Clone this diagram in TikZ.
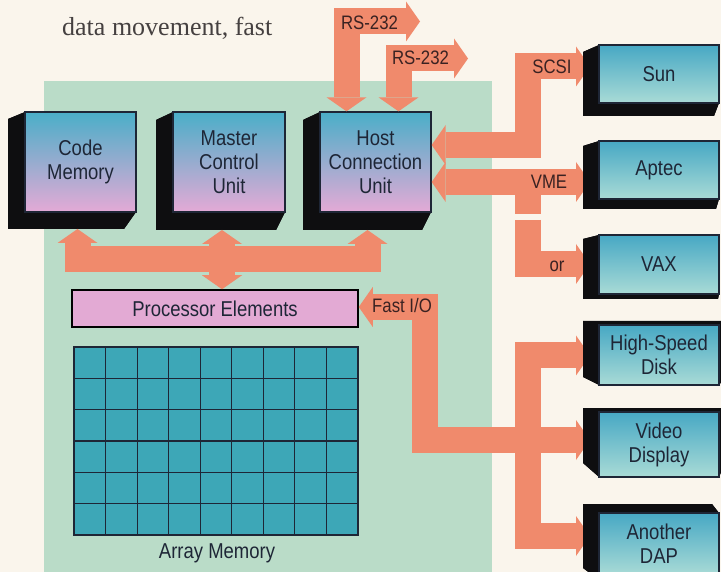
\documentclass[tikz,border=0pt]{standalone}
\usepackage{fontspec}
\newfontfamily\sansn{Liberation Sans}[FakeStretch=0.86]
\newfontfamily\serifl{Liberation Serif}
\usetikzlibrary{arrows.meta,calc}
\definecolor{bgcream}{HTML}{FAF5EC}
\definecolor{panelc}{HTML}{BADCC8}
\definecolor{salmon}{HTML}{F08A6C}
\definecolor{teala}{HTML}{4AAEC8}
\definecolor{pinka}{HTML}{E4AAD6}
\definecolor{tealb}{HTML}{47A8C4}
\definecolor{aquab}{HTML}{A9DBD6}
\definecolor{cellc}{HTML}{3DA7B7}
\definecolor{pefill}{HTML}{E3AAD4}
\definecolor{inkc}{HTML}{1E2636}
\definecolor{labc}{HTML}{3A2222}
\definecolor{serifc}{HTML}{454040}
\definecolor{extrc}{HTML}{0E0E10}
\newcommand\boxf{\sansn\fontsize{21.5}{24}\selectfont}
\newcommand\labf{\sansn\fontsize{19.5}{22}\selectfont}
% extrusion: front L T R B, back l t r b, name
\newcommand\extr[9]{%
  \fill[extrc] (#1,#2) -- (#3,#2) -- (#7,#6) -- (#5,#6) -- cycle;
  \fill[extrc] (#3,#2) -- (#3,#4) -- (#7,#8) -- (#7,#6) -- cycle;
  \fill[extrc] (#3,#4) -- (#1,#4) -- (#5,#8) -- (#7,#8) -- cycle;
  \fill[extrc] (#1,#4) -- (#1,#2) -- (#5,#6) -- (#5,#8) -- cycle;
  \fill[extrc] (#5,#6) rectangle (#7,#8);
  \coordinate (#9-bsw) at (#5,#8);
  \coordinate (#9-bnw) at (#5,#6);}
\tikzset{
  band/.style={draw=salmon, line width=26pt, line join=miter, line cap=butt},
  >={Triangle[width=40pt,length=14pt,line width=0pt]},
  lface/.style={draw=inkc, line width=1.3pt, top color=teala, bottom color=pinka,
    inner sep=0pt, font=\boxf, text=inkc, align=center},
  rface/.style={draw=inkc, line width=1.3pt, top color=tealb, bottom color=aquab,
    inner sep=0pt, font=\boxf, text=inkc, align=center},
  lab/.style={font=\labf, text=labc, inner sep=0pt},
}
\begin{document}
\begin{tikzpicture}[x=1pt,y=-1pt]
\useasboundingbox (0,0) rectangle (721,572);
\clip (0,0) rectangle (721,572);
\fill[bgcream] (0,0) rectangle (721,572);
\fill[panelc] (44,81) rectangle (492,575);

\node[anchor=base west, font=\serifl\fontsize{26}{30}\selectfont, text=serifc, inner sep=0pt] (cap) at (62,36) {data movement, fast};

% coordinates
\coordinate (busL) at (65,259.5);
\coordinate (busR) at (380.5,259.5);
\coordinate (rsA) at (420,21.5);
\coordinate (rsB) at (468,58.5);
\coordinate (riser) at (527.5,440);

% left boxes
\extr{25}{112}{136}{212}{8}{119}{124}{229}{codeg}
\extr{173}{112}{285}{212}{156}{120}{276}{230}{mcug}
\extr{320}{112}{431}{212}{303}{120}{422}{230}{hostg}
\node[lface, minimum width=111pt, minimum height=100pt] (code) at (80.5,162) {Code\\Memory};
\node[lface, minimum width=112pt, minimum height=100pt] (mcu) at (229,162) {Master\\Control\\Unit};
\node[lface, minimum width=111pt, minimum height=100pt] (host) at (375.5,162) {Host\\Connection\\Unit};

\node[draw=black, line width=1.5pt, fill=pefill, minimum width=286pt, minimum height=37pt,
  inner sep=0pt, font=\boxf, text=inkc] (pe) at (215,308.5) {Processor Elements};

% bus
\draw[band] (busL) -- (busR);
\draw[band,->] (busL -| 77.5,0) -- (77.5,0 |- codeg-bsw);
\draw[band,->] (busL -| 222,0) -- (222,0 |- mcug-bsw);
\draw[band,->] (busL -| 367.5,0) -- (367.5,0 |- hostg-bsw);
\draw[band,->] (busL -| 222,0) -- (pe.north -| 222,0);

% RS-232
\draw[band,<->] (rsA) -| (host.north -| 346.5,0);
\draw[band,<->] (rsB) -| (host.north -| 398.5,0);

% host to Sun / Aptec / VAX
\draw[band,<->] (host.east |- 0,145) -- (527.5,145) -- (527.5,66.5) -- (590,66.5);
\draw[band,<->] (host.east |- 0,182) -- (590,182);
\draw[band] (527.5,182) -- (527.5,214);
\draw[band,->] (527.5,220) |- (590,264);

% fast I/O
\draw[band,<->] (pe.east |- 0,307) -- (425,307) -- (425,440) -- (590,440);
\draw[band,->] (riser) |- (590,355.5);
\draw[band,->] (riser) |- (590,536);

% right boxes
\extr{599}{45}{719}{103}{583}{52}{714}{116}{sung}
\extr{599}{141}{719}{199}{583}{146}{716}{209}{aptg}
\extr{599}{235}{719}{294}{583}{239}{718}{299}{vaxg}
\extr{599}{325}{719}{385}{583}{321}{725}{377}{hsdg}
\extr{599}{412}{719}{477}{583}{408}{725}{463}{vidg}
\extr{599}{513}{719}{580}{583}{504}{712}{568}{dapg}
\node[rface, minimum width=120pt, minimum height=58pt] (sun) at (659,74) {Sun};
\node[rface, minimum width=120pt, minimum height=58pt] (aptec) at (659,170) {Aptec};
\node[rface, minimum width=120pt, minimum height=59pt] (vax) at (659,264.5) {VAX};
\node[rface, minimum width=120pt, minimum height=60pt] (hsd) at (659,355) {High-Speed\\Disk};
\node[rface, minimum width=120pt, minimum height=65pt] (video) at (659,444.5) {Video\\Display};
\node[rface, minimum width=120pt, minimum height=62pt] (dap) at (659,544) {Another\\DAP};

% array memory
\node[draw=inkc, line width=1.5pt, fill=cellc, minimum width=284pt, minimum height=188pt, inner sep=0pt] (am) at (216,441) {};
\foreach \i in {1,...,8} \draw[inkc, line width=1.2pt] (74+\i*31.556,347) -- ++(0,188);
\foreach \j in {1,...,5} \draw[inkc, line width=1.2pt] (74,347+\j*31.333) -- ++(284,0);
\node[anchor=base, font=\boxf, text=inkc, inner sep=0pt] (amlab) at (217,558) {Array Memory};

% labels
\node[lab] (l1) at (369.5,22.5) {RS-232};
\node[lab] (l2) at (420.5,58) {RS-232};
\node[lab] (l3) at (552,67) {SCSI};
\node[lab] (l4) at (549,182) {VME};
\node[lab] (l5) at (557,266) {or};
\node[lab] (l6) at (402,306) {Fast I/O};
\end{tikzpicture}
\end{document}
